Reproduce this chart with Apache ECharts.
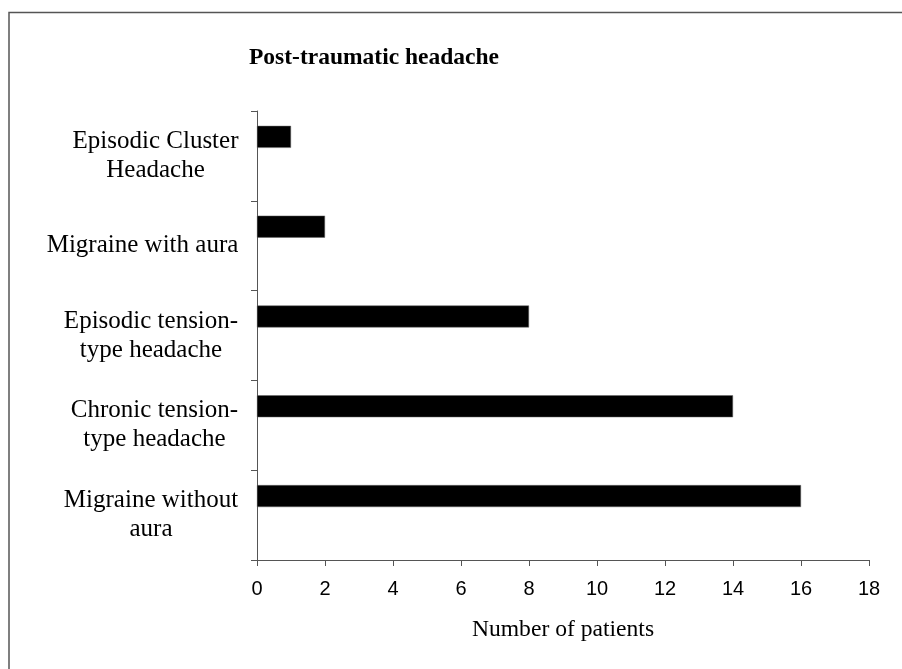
<!DOCTYPE html>
<html>
<head>
<meta charset="utf-8">
<script src="https://cdn.jsdelivr.net/npm/echarts@6/dist/echarts.min.js"></script>
<style>
html,body{margin:0;padding:0;background:#fff;}
#chart{width:902px;height:669px;}
</style>
</head>
<body>
<div id="chart"></div>
<script>
const categories = [
  'Episodic Cluster\nHeadache',
  'Migraine with aura',
  'Episodic tension-\ntype headache',
  'Chronic tension-\ntype headache',
  'Migraine without\naura'
];
const patients = [1, 2, 8, 14, 16];
const xTicks = { min: 0, max: 18, interval: 2 };
const titleText = 'Post-traumatic headache';
const xName = 'Number of patients';

const serif = '"Liberation Serif", "Times New Roman", Times, serif';
const sans = '"Liberation Sans", Arial, Helvetica, sans-serif';
const catFont = 25;

// measure widest line of each label so lines can be centred inside the block
const cv = document.createElement('canvas').getContext('2d');
cv.font = catFont + 'px ' + serif;
const rich = {};
categories.forEach((c, i) => {
  const w = Math.max(...c.split('\n').map(l => cv.measureText(l).width));
  rich['c' + i] = { width: Math.ceil(w) + 1, align: 'center', fontFamily: serif, fontSize: catFont, lineHeight: 29, color: '#000' };
});

const chart = echarts.init(document.getElementById('chart'), null, { renderer: 'canvas' });
chart.setOption({
  backgroundColor: '#fff',
  animation: false,
  graphic: [
    { type: 'rect', shape: { x: 9, y: 12.5, width: 1000, height: 1000 }, style: { fill: 'none', stroke: '#555', lineWidth: 1.5 } },
    { type: 'text', left: 249, top: 46, style: { text: titleText, font: 'bold 23.5px ' + serif, fill: '#000' } }
  ],
  grid: { left: 257, right: 33, top: 111, bottom: 109, containLabel: false },
  xAxis: {
    type: 'value',
    min: xTicks.min, max: xTicks.max, interval: xTicks.interval,
    name: xName, nameLocation: 'middle', nameGap: 58,
    nameTextStyle: { fontFamily: serif, fontSize: 23.6, color: '#000' },
    axisLine: { show: true, lineStyle: { color: '#555', width: 1 } },
    axisTick: { show: true, length: 6, lineStyle: { color: '#555' } },
    axisLabel: { fontFamily: sans, fontSize: 20, color: '#000', margin: 19 },
    splitLine: { show: false }
  },
  yAxis: {
    type: 'category', inverse: true, data: categories,
    axisLine: { show: true, lineStyle: { color: '#555', width: 1 } },
    axisTick: { show: true, length: 6, lineStyle: { color: '#555' } },
    axisLabel: {
      margin: 18, align: 'right',
      formatter: (v, i) => v.split('\n').map(l => '{c' + i + '|' + l + '}').join('\n'),
      rich: rich
    },
    splitLine: { show: false }
  },
  series: [
    { type: 'bar', data: patients, barWidth: 22, barGap: '73%', itemStyle: { color: '#000', borderColor: '#666', borderWidth: 0.5 } },
    { type: 'bar', data: patients.map(() => '-'), barWidth: 22, itemStyle: { color: 'transparent' } }
  ]
});
</script>
</body>
</html>
